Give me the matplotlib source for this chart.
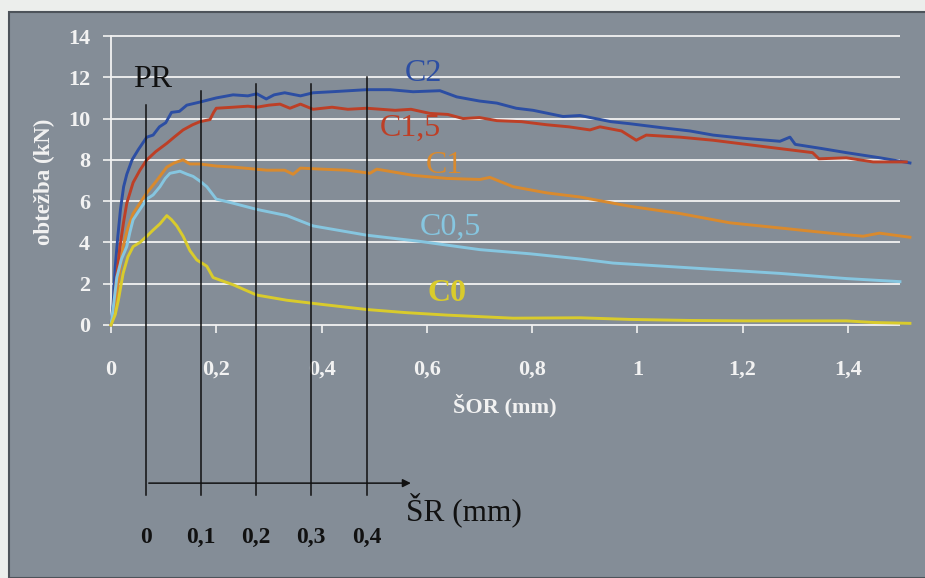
import matplotlib
matplotlib.use("Agg")
import matplotlib.pyplot as plt
from matplotlib.patches import Rectangle

plt.rcParams['font.family'] = ['Liberation Serif', 'DejaVu Serif']

# load curves: SOR (mm) vs load (kN)
c2_x = [0.000, 0.004, 0.008, 0.013, 0.018, 0.024, 0.030, 0.040, 0.052, 0.068,
        0.080, 0.092, 0.104, 0.115, 0.130, 0.144, 0.169, 0.200, 0.232, 0.260,
        0.277, 0.295, 0.310, 0.330, 0.360, 0.384, 0.420, 0.486, 0.530, 0.574,
        0.625, 0.657, 0.700, 0.733, 0.770, 0.802, 0.859, 0.891, 0.950, 0.986,
        1.049, 1.100, 1.144, 1.200, 1.271, 1.290, 1.300, 1.350, 1.397, 1.461,
        1.518]
c2_y = [0.0, 1.0, 2.8, 4.3, 5.6, 6.7, 7.3, 8.0, 8.5, 9.1,
        9.2, 9.6, 9.8, 10.3, 10.35, 10.65, 10.8, 11.0, 11.15, 11.1,
        11.2, 10.95, 11.15, 11.25, 11.1, 11.25, 11.3, 11.4, 11.4, 11.3,
        11.35, 11.05, 10.85, 10.75, 10.5, 10.4, 10.1, 10.15, 9.85, 9.75,
        9.55, 9.4, 9.2, 9.05, 8.9, 9.1, 8.75, 8.55, 8.35, 8.1,
        7.85]

c15_x = [0.000, 0.005, 0.010, 0.017, 0.024, 0.030, 0.042, 0.055, 0.068, 0.085,
         0.106, 0.120, 0.137, 0.155, 0.169, 0.188, 0.195, 0.200, 0.232, 0.260,
         0.277, 0.300, 0.321, 0.340, 0.360, 0.384, 0.420, 0.450, 0.486, 0.540,
         0.570, 0.606, 0.640, 0.669, 0.700, 0.733, 0.780, 0.828, 0.870, 0.910,
         0.929, 0.970, 0.998, 1.017, 1.081, 1.144, 1.238, 1.333, 1.345, 1.397,
         1.448, 1.511]
c15_y = [0.0, 0.9, 2.2, 3.8, 5.0, 5.9, 6.9, 7.5, 8.0, 8.4,
         8.8, 9.1, 9.45, 9.7, 9.85, 9.95, 10.3, 10.5, 10.55, 10.6,
         10.55, 10.65, 10.7, 10.5, 10.7, 10.45, 10.55, 10.45, 10.5, 10.4,
         10.45, 10.25, 10.2, 10.0, 10.05, 9.9, 9.85, 9.7, 9.6, 9.45,
         9.6, 9.4, 8.95, 9.2, 9.1, 8.95, 8.65, 8.35, 8.05, 8.1,
         7.9, 7.9]

c1_x = [0.000, 0.006, 0.011, 0.017, 0.023, 0.032, 0.042, 0.055, 0.068, 0.087,
        0.106, 0.120, 0.137, 0.150, 0.169, 0.200, 0.232, 0.296, 0.330, 0.346,
        0.360, 0.400, 0.448, 0.492, 0.505, 0.574, 0.638, 0.701, 0.720, 0.764,
        0.828, 0.891, 0.986, 1.081, 1.176, 1.271, 1.366, 1.429, 1.460, 1.518]
c1_y = [0.0, 0.6, 1.5, 2.7, 3.8, 4.7, 5.4, 5.9, 6.4, 7.0,
        7.65, 7.85, 8.0, 7.8, 7.8, 7.7, 7.65, 7.5, 7.5, 7.3,
        7.6, 7.55, 7.5, 7.35, 7.55, 7.25, 7.1, 7.05, 7.15, 6.7,
        6.4, 6.2, 5.75, 5.4, 4.95, 4.7, 4.45, 4.3, 4.45, 4.25]

c05_x = [0.000, 0.005, 0.011, 0.020, 0.030, 0.036, 0.042, 0.055, 0.068, 0.080,
         0.093, 0.103, 0.112, 0.122, 0.131, 0.145, 0.156, 0.170, 0.182, 0.200,
         0.232, 0.277, 0.334, 0.384, 0.486, 0.587, 0.701, 0.796, 0.891, 0.954,
         1.112, 1.271, 1.397, 1.499]
c05_y = [0.0, 1.0, 2.3, 3.2, 3.8, 4.5, 5.1, 5.6, 6.1, 6.3,
         6.7, 7.1, 7.35, 7.4, 7.45, 7.3, 7.2, 6.95, 6.7, 6.1,
         5.9, 5.6, 5.3, 4.8, 4.35, 4.05, 3.65, 3.45, 3.2, 3.0,
         2.75, 2.5, 2.25, 2.1]

c0_x = [0.000, 0.008, 0.014, 0.023, 0.032, 0.042, 0.055, 0.068, 0.080, 0.093,
        0.106, 0.115, 0.125, 0.137, 0.150, 0.163, 0.182, 0.194, 0.210, 0.232,
        0.277, 0.334, 0.400, 0.486, 0.560, 0.638, 0.764, 0.891, 0.986, 1.100,
        1.207, 1.397, 1.450, 1.518]
c0_y = [0.0, 0.5, 1.2, 2.5, 3.3, 3.8, 4.0, 4.3, 4.6, 4.9,
        5.3, 5.1, 4.8, 4.3, 3.6, 3.15, 2.85, 2.3, 2.15, 1.95,
        1.45, 1.2, 1.0, 0.75, 0.6, 0.48, 0.33, 0.35, 0.27, 0.22,
        0.2, 0.2, 0.12, 0.08]

curves = [
    (c2_x, c2_y, "#2c4ea3", "C2", 0.594, 12.2, "normal"),
    (c15_x, c15_y, "#bd3f26", "C1,5", 0.568, 9.55, "normal"),
    (c1_x, c1_y, "#d98a2e", "C1", 0.634, 7.75, "normal"),
    (c05_x, c05_y, "#86c6e0", "C0,5", 0.644, 4.75, "normal"),
    (c0_x, c0_y, "#d9cb2c", "C0", 0.638, 1.55, "bold"),
]

x_ticks = [0, 0.2, 0.4, 0.6, 0.8, 1, 1.2, 1.4]
x_labels = ["0", "0,2", "0,4", "0,6", "0,8", "1", "1,2", "1,4"]
y_ticks = [0, 2, 4, 6, 8, 10, 12, 14]

# SR (mm) secondary scale drawn under the chart
sr_labels = ["0", "0,1", "0,2", "0,3", "0,4"]
sr_pos = [0.0665, 0.171, 0.2755, 0.380, 0.486]
sr_tops = [10.66, 11.34, 11.68, 11.68, 12.0]

BG = "#848d97"

fig = plt.figure(figsize=(9.25, 5.78), dpi=100)
fig.patch.set_facecolor("#eceeec")
fig.patches.append(Rectangle((9 / 925, 0), 1, 1 - 12 / 578, transform=fig.transFigure,
                             facecolor=BG, edgecolor="#4d535a", linewidth=1.5, zorder=-10))

ax = fig.add_axes([111 / 925, 253 / 578, 800 / 925, 289 / 578])
ax.set_zorder(5)
ax.set_facecolor("none")
ax.set_xlim(0, 1.52)
ax.set_ylim(0, 14)

ax.hlines(y_ticks, 0, 1.5, colors="#f2f2f2", linewidth=1.3, clip_on=False, zorder=1)

for xs, ys, col, name, lx, ly, wt in curves:
    ax.plot(xs, ys, color=col, linewidth=2.1, clip_on=False, zorder=3)
    ax.text(lx, ly, name, color=col, fontsize=23, fontweight=wt, ha="center", va="center")

for sp in ["top", "right", "bottom"]:
    ax.spines[sp].set_visible(False)
ax.spines["left"].set_color("#f2f2f2")
ax.spines["left"].set_linewidth(1.3)

ax.set_xticks(x_ticks)
ax.set_xticklabels(x_labels)
ax.set_yticks(y_ticks)
ax.tick_params(axis="x", colors="#f2f2f2", direction="out", length=6, width=1.2, pad=19,
               labelsize=16)
ax.tick_params(axis="y", colors="#f2f2f2", direction="out", length=6, width=1.2, pad=9,
               labelsize=16)
for lab in ax.get_xticklabels() + ax.get_yticklabels():
    lab.set_fontweight("bold")

ax.text(0.748, -3.9, "ŠOR (mm)", color="#f2f2f2", fontsize=16, fontweight="bold",
        ha="center", va="center", clip_on=False)
fig.text(44 / 925, 1 - 182 / 578, "obtežba (kN)", color="#f2f2f2", fontsize=16.5,
         fontweight="bold", rotation=90, ha="center", va="center")

# SR vertical lines, arrow and labels
for xp, top, lab in zip(sr_pos, sr_tops, sr_labels):
    ax.plot([xp, xp], [-8.25, top], color="#111111", linewidth=1.1, clip_on=False, zorder=4)
    ax.text(xp, -10.3, lab, color="#111111", fontsize=17, fontweight="bold",
            ha="center", va="center", clip_on=False)
ax.annotate("", xy=(0.575, -7.66), xytext=(sr_pos[0], -7.66),
            arrowprops=dict(arrowstyle="-|>", color="#111111", lw=1.1, mutation_scale=12),
            annotation_clip=False)
ax.text(0.561, -8.95, "ŠR (mm)", color="#111111", fontsize=22.5, ha="left", va="center",
        clip_on=False)
ax.text(0.08, 11.87, "PR", color="#111111", fontsize=23, ha="center", va="center")

fig.savefig("out.png", dpi=100, facecolor=fig.get_facecolor())
